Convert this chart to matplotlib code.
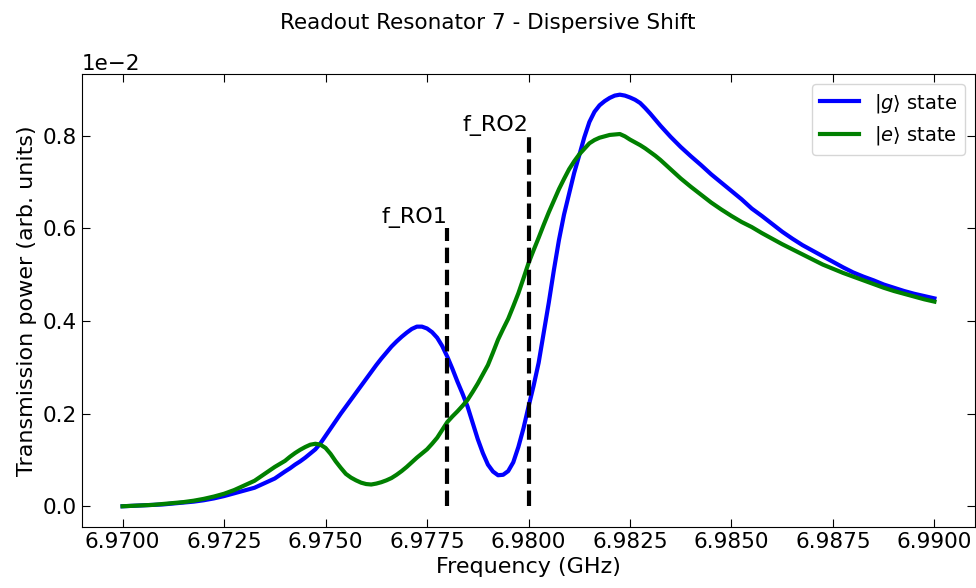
import matplotlib

matplotlib.use("Agg")
import matplotlib.pyplot as plt
import numpy as np
from matplotlib.ticker import MultipleLocator

# frequency sweep (GHz): 0.25 MHz steps on the tails, 0.125 MHz around the resonances
freq = (
    [6.9700 + 0.00025 * k for k in range(16)]
    + [6.9740 + 0.000125 * k for k in range(77)]
    + [6.98375 + 0.00025 * k for k in range(26)]
)

# transmission power, in units of 1e-2 (arb.)
power_g = [
    # 6.9700 - 6.97375
    0.000, 0.001, 0.002, 0.003, 0.004, 0.006, 0.008, 0.010, 0.013, 0.017,
    0.022, 0.028, 0.034, 0.040, 0.050, 0.060,
    # 6.9740 - 6.9835
    0.075, 0.082, 0.090, 0.097, 0.105, 0.114, 0.123, 0.136, 0.152, 0.168,
    0.184, 0.200, 0.215, 0.230, 0.245, 0.260, 0.275, 0.290, 0.305, 0.319,
    0.332, 0.345, 0.356, 0.366, 0.375, 0.383, 0.388, 0.388, 0.384, 0.376,
    0.364, 0.346, 0.323, 0.297, 0.269, 0.243, 0.215, 0.180, 0.145, 0.115,
    0.090, 0.075, 0.067, 0.068, 0.076, 0.095, 0.128, 0.168, 0.215, 0.260,
    0.310, 0.375, 0.440, 0.510, 0.575, 0.630, 0.675, 0.720, 0.758, 0.797,
    0.830, 0.852, 0.866, 0.875, 0.882, 0.887, 0.889, 0.887, 0.883, 0.878,
    0.871, 0.860, 0.848, 0.835, 0.822, 0.810, 0.798,
    # 6.98375 - 6.9900
    0.776, 0.756, 0.737, 0.717, 0.699, 0.681, 0.663, 0.643, 0.627, 0.610,
    0.593, 0.578, 0.564, 0.552, 0.540, 0.528, 0.516, 0.505, 0.496, 0.488,
    0.479, 0.472, 0.465, 0.459, 0.454, 0.449,
]
power_e = [
    # 6.9700 - 6.97375
    0.000, 0.001, 0.002, 0.003, 0.005, 0.007, 0.009, 0.012, 0.016, 0.021,
    0.027, 0.035, 0.045, 0.055, 0.070, 0.085,
    # 6.9740 - 6.9835
    0.098, 0.107, 0.115, 0.122, 0.128, 0.133, 0.135, 0.133, 0.126, 0.113,
    0.097, 0.083, 0.070, 0.062, 0.056, 0.051, 0.048, 0.047, 0.049, 0.052,
    0.056, 0.061, 0.068, 0.076, 0.085, 0.095, 0.105, 0.114, 0.123, 0.135,
    0.148, 0.165, 0.182, 0.194, 0.205, 0.217, 0.230, 0.247, 0.265, 0.285,
    0.305, 0.332, 0.360, 0.383, 0.405, 0.432, 0.460, 0.492, 0.525, 0.553,
    0.580, 0.608, 0.635, 0.660, 0.685, 0.707, 0.728, 0.745, 0.760, 0.772,
    0.784, 0.791, 0.796, 0.799, 0.802, 0.803, 0.804, 0.799, 0.792, 0.786,
    0.780, 0.773, 0.765, 0.757, 0.748, 0.738, 0.728,
    # 6.98375 - 6.9900
    0.708, 0.690, 0.673, 0.656, 0.641, 0.627, 0.614, 0.603, 0.590, 0.578,
    0.566, 0.555, 0.544, 0.533, 0.522, 0.513, 0.504, 0.496, 0.488, 0.480,
    0.472, 0.465, 0.459, 0.453, 0.447, 0.442,
]

# readout frequencies and marker heights (1e-2 units)
ro_freq = [6.978, 6.980]
ro_height = [0.6, 0.8]
ro_label = ["f_RO1", "f_RO2"]

SCALE = 1e-2

fig, ax = plt.subplots(figsize=(9.76, 5.88), dpi=100)
fig.subplots_adjust(left=0.084, right=0.999, top=0.874, bottom=0.104)

ax.plot(freq, np.array(power_g) * SCALE, color="blue", lw=3, label=r"$|g\rangle$ state")
ax.plot(freq, np.array(power_e) * SCALE, color="green", lw=3, label=r"$|e\rangle$ state")

for f, h, lab in zip(ro_freq, ro_height, ro_label):
    ax.vlines(f, 0, h * SCALE, colors="black", linestyles="dashed", lw=3)
    ax.text(f, h * SCALE, lab, ha="right", va="bottom", fontsize=16)

ax.xaxis.set_major_locator(MultipleLocator(0.0025))
ax.ticklabel_format(axis="y", style="sci", scilimits=(-2, -2))
ax.yaxis.get_offset_text().set_fontsize(15.5)
ax.tick_params(direction="in", top=True, right=True, labelsize=15.5, length=6)

ax.set_xlabel("Frequency (GHz)", fontsize=16)
ax.set_ylabel("Transmission power (arb. units)", fontsize=16)
ax.legend(loc="upper right", fontsize=14)
fig.suptitle("Readout Resonator 7 - Dispersive Shift", fontsize=15.5, y=0.978)

fig.savefig("out.png", dpi=100)
